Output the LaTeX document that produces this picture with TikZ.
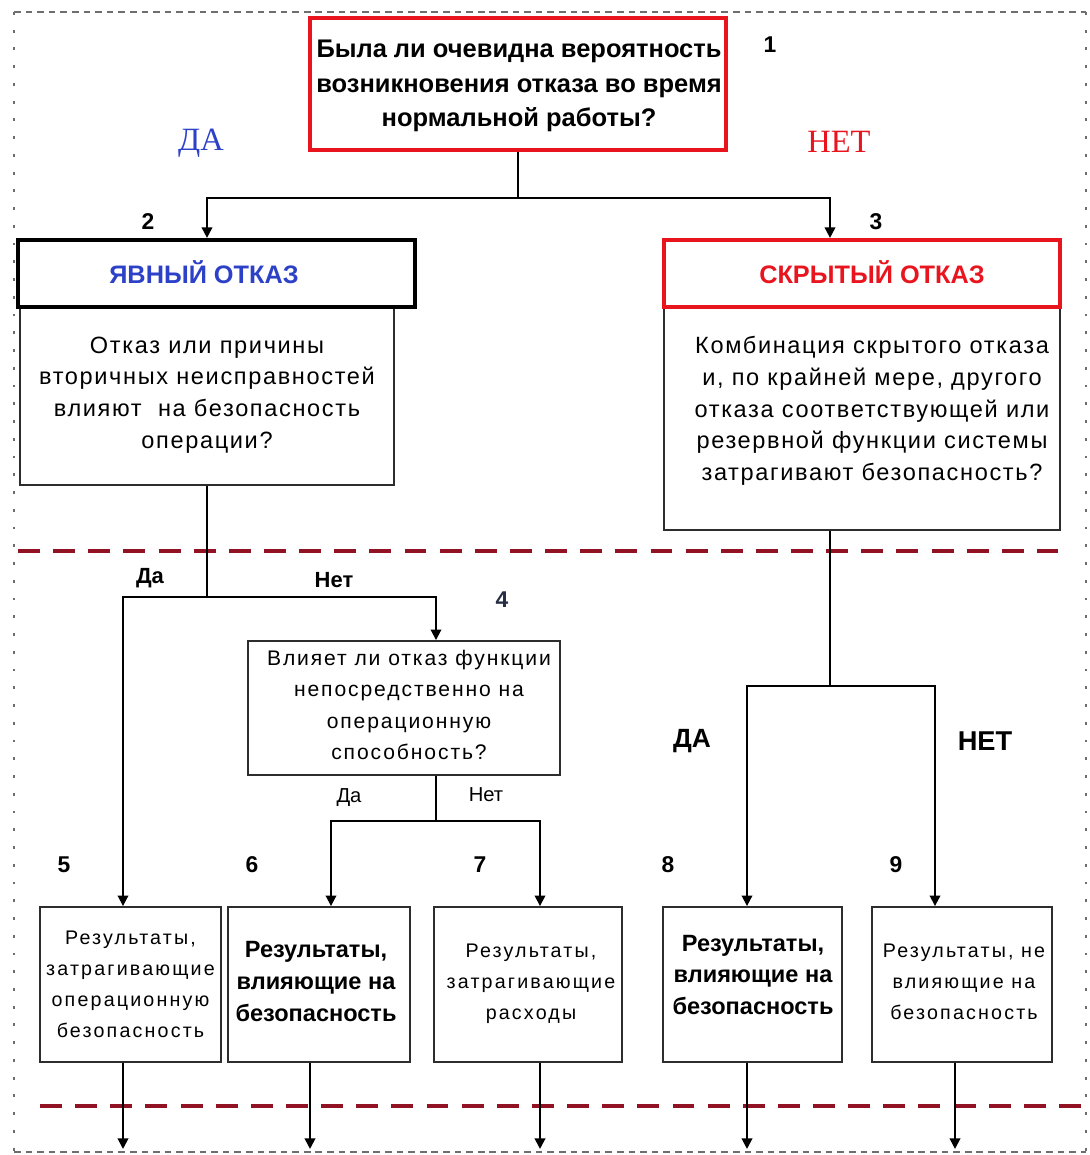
\documentclass[tikz,border=0pt]{standalone}
\usepackage{fontspec}
\setmainfont{Liberation Sans}
\newfontfamily\serifcyr{Liberation Serif}
\usetikzlibrary{arrows.meta}
\definecolor{boxred}{RGB}{232,20,30}
\definecolor{darkred}{RGB}{145,18,35}
\definecolor{txtblue}{RGB}{45,65,200}
\definecolor{linegray}{RGB}{45,45,45}
\definecolor{bordergray}{RGB}{110,110,110}
\begin{document}
\begin{tikzpicture}[x=0.02cm,y=-0.02cm,
  box/.style={draw=linegray, line width=1.1pt, inner sep=0pt, fill=white},
  headbox/.style={draw=black, line width=2.4pt, inner sep=0pt, fill=white},
  redbox/.style={draw=boxred, line width=2.4pt, inner sep=0pt, fill=white},
  txt/.style={align=center, inner sep=0pt},
  conn/.style={draw=black, line width=1.1pt},
  arr/.style={conn, -{Triangle[length=6pt,width=6pt]}},
  sepline/.style={draw=darkred, line width=2.8pt, dash pattern=on 12.5pt off 7.5pt},
  numlbl/.style={font=\bfseries\fontsize{13}{13}\selectfont, inner sep=0pt},
  big/.style={font=\fontsize{13.4}{18}\selectfont\addfontfeature{LetterSpace=7}},
  small/.style={font=\fontsize{11.2}{17.6}\selectfont\addfontfeature{LetterSpace=11}},
  smallbold/.style={font=\bfseries\fontsize{13.4}{18.2}\selectfont}
]
\useasboundingbox (0,0) rectangle (1089,1155);
\fill[white] (0,0) rectangle (1089,1155);

% outer frame
\draw[bordergray, line width=0.9pt, dash pattern=on 3.8pt off 2.8pt] (14,12) -- (1086,12);
\draw[bordergray, line width=0.9pt, dash pattern=on 3.8pt off 2.8pt] (14,1152) -- (1086,1152);
\draw[bordergray, line width=1.6pt, dash pattern=on 1.6pt off 8.5pt] (14,12) -- (14,1152);
\draw[bordergray, line width=1.6pt, dash pattern=on 1.6pt off 8.5pt] (1086,12) -- (1086,1152);

% separators
\draw[sepline] (18,551) -- (1058,551);
\draw[sepline] (40,1106) -- (1086,1106);

% box 1
\node[redbox, minimum width=8.32cm, minimum height=2.64cm] (b1) at (518,84) {};
\node[txt, font=\bfseries\fontsize{14.5}{19.8}\selectfont] (b1t) at (519,86)
  {Была ли очевидна вероятность\\возникновения отказа во время\\нормальной работы?};

% box 2
\node[box, minimum width=7.48cm, minimum height=3.56cm] (b2b) at (207,396) {};
\node[txt, big] (b2t) at (207,395)
  {Отказ или причины\\вторичных неисправностей\\влияют \ на безопасность\\операции?};
\node[headbox, minimum width=7.94cm, minimum height=1.34cm] (b2h) at (216.5,273.5) {};
\node[txt, font=\bfseries\fontsize{14.4}{16}\selectfont, text=txtblue] (b2ht) at (204,272)
  {ЯВНЫЙ ОТКАЗ};

% box 3
\node[box, minimum width=7.92cm, minimum height=4.46cm] (b3b) at (862,418.5) {};
\node[txt, big] (b3t) at (872,411)
  {Комбинация скрытого отказа\\и, по крайней мере, другого\\отказа соответствующей или\\резервной функции системы\\затрагивают безопасность?};
\node[redbox, minimum width=7.92cm, minimum height=1.34cm] (b3h) at (862,273.5) {};
\node[txt, font=\bfseries\fontsize{14.4}{16}\selectfont, text=boxred] (b3ht) at (872,272)
  {СКРЫТЫЙ ОТКАЗ};

% box 4
\node[box, minimum width=6.24cm, minimum height=2.68cm] (b4) at (404,708) {};
\node[txt, font=\fontsize{12}{17.8}\selectfont\addfontfeature{LetterSpace=9}] (b4t) at (409,705)
  {Влияет ли отказ функции\\непосредственно на\\операционную\\способность?};

% bottom boxes
\node[box, minimum width=3.62cm, minimum height=3.1cm] (b5) at (130.5,984.5) {};
\node[txt, small] (b5t) at (130.5,984.5)
  {Результаты,\\затрагивающие\\операционную\\безопасность};
\node[box, minimum width=3.64cm, minimum height=3.1cm] (b6) at (319,984.5) {};
\node[txt, smallbold] (b6t) at (316,981.5)
  {Результаты,\\влияющие на\\безопасность};
\node[box, minimum width=3.76cm, minimum height=3.1cm] (b7) at (528,984.5) {};
\node[txt, small] (b7t) at (531,983.5)
  {Результаты,\\затрагивающие\\расходы};
\node[box, minimum width=3.58cm, minimum height=3.1cm] (b8) at (752.5,984.5) {};
\node[txt, smallbold] (b8t) at (753,975)
  {Результаты,\\влияющие на\\безопасность};
\node[box, minimum width=3.6cm, minimum height=3.1cm] (b9) at (962,984.5) {};
\node[txt, small] (b9t) at (964,982)
  {Результаты, не\\влияющие на\\безопасность};

% connectors
\draw[conn] (b1.south) -- ++(0,46) coordinate (j1);
\draw[arr] (j1) -| ([xshift=-0.19cm]b2h.north);
\draw[arr] (j1) -| ([xshift=-0.64cm]b3h.north);

\draw[conn] (b2b.south) -- ++(0,111) coordinate (j2);
\draw[arr] (j2) -| ([xshift=-0.15cm]b5.north);
\draw[arr] (j2) -| ([xshift=0.64cm]b4.north);

\draw[conn] ([xshift=0.64cm]b4.south) -- ++(0,45) coordinate (j3);
\draw[arr] (j3) -| ([xshift=0.24cm]b6.north);
\draw[arr] (j3) -| ([xshift=0.24cm]b7.north);

\draw[conn] ([xshift=-0.64cm]b3b.south) -- ++(0,155) coordinate (j4);
\draw[arr] (j4) -| ([xshift=-0.11cm]b8.north);
\draw[arr] (j4) -| ([xshift=-0.54cm]b9.north);

\draw[arr] ([xshift=-0.15cm]b5.south) -- ++(0,86) coordinate (e5);
\draw[arr] ([xshift=-0.18cm]b6.south) -- ++(0,86) coordinate (e6);
\draw[arr] ([xshift=0.24cm]b7.south) -- ++(0,86) coordinate (e7);
\draw[arr] ([xshift=-0.11cm]b8.south) -- ++(0,86) coordinate (e8);
\draw[arr] ([xshift=-0.14cm]b9.south) -- ++(0,86) coordinate (e9);

% labels
\node[font=\serifcyr\fontsize{18.5}{18.5}\selectfont, text=txtblue] (yes1) at (201,143) {ДА};
\node[font=\serifcyr\fontsize{18.5}{18.5}\selectfont, text=boxred] (no1) at (839,142) {НЕТ};
\node[font=\bfseries\fontsize{12.5}{12.5}\selectfont] (yes2) at (150,578) {Да};
\node[font=\bfseries\fontsize{12.5}{12.5}\selectfont] (no2) at (334,580) {Нет};
\node[font=\fontsize{11.5}{11.5}\selectfont] (yes3) at (349,798) {Да};
\node[font=\fontsize{11.5}{11.5}\selectfont] (no3) at (486,795) {Нет};
\node[font=\bfseries\fontsize{15}{15}\selectfont] (yes4) at (692,741) {ДА};
\node[font=\bfseries\fontsize{15.5}{15.5}\selectfont] (no4) at (985,741) {НЕТ};

\node[numlbl] (n1) at (770,45) {1};
\node[numlbl] (n2) at (148,222) {2};
\node[numlbl] (n3) at (876,222) {3};
\node[numlbl, text={rgb,255:red,40;green,45;blue,70}] (n4) at (502,600) {4};
\node[numlbl] (n5) at (64,865) {5};
\node[numlbl] (n6) at (252,865) {6};
\node[numlbl] (n7) at (480,865) {7};
\node[numlbl] (n8) at (668,865) {8};
\node[numlbl] (n9) at (896,865) {9};
\end{tikzpicture}
\end{document}
